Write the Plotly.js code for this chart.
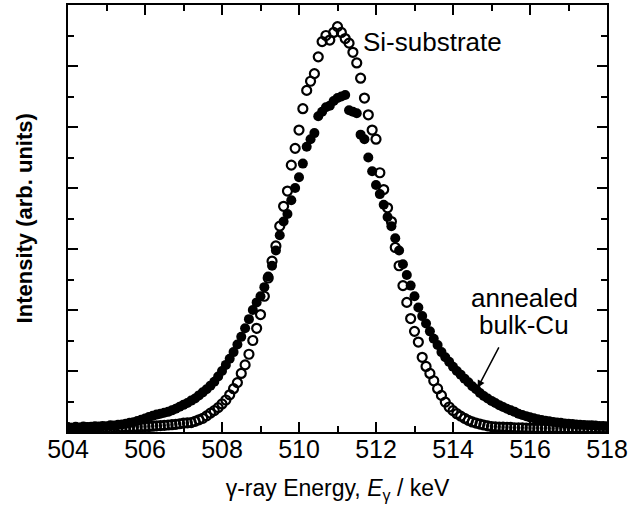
<!DOCTYPE html>
<html>
<head>
<meta charset="utf-8">
<script src="https://cdn.plot.ly/plotly-3.0.1.min.js"></script>
<style>html,body{margin:0;padding:0;background:#fff;}#chart{width:628px;height:521px;}</style>
</head>
<body>
<div id="chart"></div>
<script>
// Energy grid (keV)
const energy = [
504.0,504.1,504.2,504.3,504.4,504.5,504.6,504.7,504.8,504.9,
505.0,505.1,505.2,505.3,505.4,505.5,505.6,505.7,505.8,505.9,
506.0,506.1,506.2,506.3,506.4,506.5,506.6,506.7,506.8,506.9,
507.0,507.1,507.2,507.3,507.4,507.5,507.6,507.7,507.8,507.9,
508.0,508.1,508.2,508.3,508.4,508.5,508.6,508.7,508.8,508.9,
509.0,509.1,509.2,509.3,509.4,509.5,509.6,509.7,509.8,509.9,
510.0,510.1,510.2,510.3,510.4,510.5,510.6,510.7,510.8,510.9,
511.0,511.1,511.2,511.3,511.4,511.5,511.6,511.7,511.8,511.9,
512.0,512.1,512.2,512.3,512.4,512.5,512.6,512.7,512.8,512.9,
513.0,513.1,513.2,513.3,513.4,513.5,513.6,513.7,513.8,513.9,
514.0,514.1,514.2,514.3,514.4,514.5,514.6,514.7,514.8,514.9,
515.0,515.1,515.2,515.3,515.4,515.5,515.6,515.7,515.8,515.9,
516.0,516.1,516.2,516.3,516.4,516.5,516.6,516.7,516.8,516.9,
517.0,517.1,517.2,517.3,517.4,517.5,517.6,517.7,517.8,517.9,
518.0];

// Si-substrate (open circles), arb. units
const siSubstrate = [
0.13,0.12,0.14,0.12,0.13,0.14,0.12,0.13,0.14,0.13,
0.14,0.13,0.15,0.14,0.15,0.15,0.16,0.16,0.17,0.17,
0.18,0.18,0.19,0.20,0.21,0.22,0.23,0.24,0.25,0.27,
0.29,0.30,0.31,0.35,0.40,0.45,0.53,0.62,0.70,0.80,
0.92,1.05,1.22,1.42,1.62,1.92,2.20,2.55,3.00,3.40,
3.85,4.45,5.05,5.60,6.10,6.75,7.40,7.90,8.75,9.30,
9.90,10.60,11.20,11.50,11.75,12.30,12.80,13.00,12.85,13.10,
13.29,13.10,12.90,12.75,12.45,12.10,11.60,10.95,10.40,9.90,
9.60,8.50,7.95,7.35,6.90,6.05,5.45,4.80,4.25,3.72,
3.30,2.95,2.45,2.15,1.92,1.68,1.42,1.20,0.98,0.82,
0.70,0.60,0.52,0.45,0.38,0.33,0.29,0.26,0.23,0.20,
0.18,0.17,0.16,0.16,0.15,0.15,0.14,0.14,0.14,0.13,
0.13,0.13,0.12,0.13,0.12,0.12,0.13,0.12,0.12,0.12,
0.12,0.11,0.12,0.12,0.11,0.12,0.11,0.12,0.11,0.11,
0.11];

// annealed bulk-Cu (filled circles), arb. units
const bulkCu = [
0.16,0.14,0.17,0.15,0.18,0.16,0.17,0.19,0.18,0.20,
0.19,0.22,0.21,0.24,0.25,0.27,0.30,0.32,0.36,0.40,
0.44,0.49,0.53,0.57,0.60,0.63,0.66,0.71,0.76,0.83,
0.89,0.95,1.03,1.10,1.20,1.30,1.40,1.52,1.65,1.82,
2.00,2.20,2.40,2.62,2.87,3.12,3.40,3.70,4.00,4.25,
4.45,4.75,5.10,5.45,5.95,6.45,6.90,7.15,7.60,8.00,
8.35,8.80,9.35,9.60,9.80,10.35,10.50,10.65,10.70,10.85,
10.95,11.00,11.05,10.55,10.50,10.45,9.75,9.60,9.00,8.55,
8.10,7.80,7.45,7.05,6.75,6.35,5.95,5.50,5.15,4.80,
4.45,4.08,3.80,3.56,3.30,3.06,2.85,2.62,2.45,2.30,
2.14,2.00,1.88,1.75,1.63,1.50,1.40,1.28,1.18,1.10,
1.02,0.95,0.88,0.82,0.76,0.71,0.66,0.60,0.56,0.52,
0.48,0.45,0.42,0.39,0.37,0.35,0.33,0.31,0.30,0.28,
0.27,0.26,0.25,0.24,0.23,0.22,0.22,0.21,0.20,0.20,
0.19];

const xTickVals = [504,506,508,510,512,514,516,518];
const xTickText = ["504","506","508","510","512","514","516","518"];

const FONT = "'Liberation Sans', Arial, sans-serif";

const traces = [
  {x: energy, y: siSubstrate, type: 'scatter', mode: 'markers', name: 'Si-substrate',
   marker: {symbol: 'circle-open', size: 9, color: '#000', line: {width: 2.2, color: '#000'}}},
  {x: energy, y: bulkCu, type: 'scatter', mode: 'markers', name: 'annealed bulk-Cu',
   marker: {symbol: 'circle', size: 10, color: '#000'}}
];

const layout = {
  width: 628, height: 521,
  margin: {l: 68, r: 21, t: 5, b: 89},
  paper_bgcolor: '#fff', plot_bgcolor: '#fff',
  showlegend: false,
  font: {family: FONT, color: '#000', size: 25},
  xaxis: {
    range: [504, 518], tickvals: xTickVals, ticktext: xTickText,
    ticks: 'inside', ticklen: 10, tickwidth: 2, tickcolor: '#000',
    ticklabelstandoff: -6,
    minor: {dtick: 1, tick0: 504, ticks: 'inside', ticklen: 6, tickwidth: 2, tickcolor: '#000', showgrid: false},
    showline: true, linewidth: 2, linecolor: '#000', mirror: 'ticks',
    showgrid: false, zeroline: false,
    tickfont: {size: 25, family: FONT},
    title: {text: 'γ-ray Energy, <i>E</i><sub>γ</sub> / keV', font: {size: 23, family: FONT}, standoff: 18}
  },
  yaxis: {
    range: [0, 14], tick0: 0, dtick: 2,
    ticks: 'inside', ticklen: 10, tickwidth: 2, tickcolor: '#000',
    minor: {dtick: 1, tick0: 0, ticks: 'inside', ticklen: 6, tickwidth: 2, tickcolor: '#000', showgrid: false},
    showticklabels: false,
    showline: true, linewidth: 2, linecolor: '#000', mirror: 'ticks',
    showgrid: false, zeroline: false
  },
  annotations: [
    {x: -0.08, y: 0.5, xref: 'paper', yref: 'paper', text: '<b>Intensity (arb. units)</b>', showarrow: false,
     textangle: -90, xanchor: 'center', yanchor: 'middle', font: {size: 22, family: FONT}},
    {x: 511.6, y: 12.8, xref: 'x', yref: 'y', text: 'Si-substrate', showarrow: false,
     xanchor: 'left', yanchor: 'middle', font: {size: 26, family: FONT}},
    {x: 515.85, y: 4.4, xref: 'x', yref: 'y', text: 'annealed', showarrow: false,
     xanchor: 'center', yanchor: 'middle', font: {size: 26, family: FONT}},
    {x: 515.85, y: 3.5, xref: 'x', yref: 'y', text: 'bulk-Cu', showarrow: false,
     xanchor: 'center', yanchor: 'middle', font: {size: 26, family: FONT}},
    {x: 514.64, y: 1.45, xref: 'x', yref: 'y', text: '', showarrow: true,
     ax: 22, ay: -42, arrowhead: 2, arrowsize: 1, arrowwidth: 1.5, arrowcolor: '#000'}
  ]
};

Plotly.newPlot('chart', traces, layout, {staticPlot: true, displayModeBar: false});
</script>
</body>
</html>
